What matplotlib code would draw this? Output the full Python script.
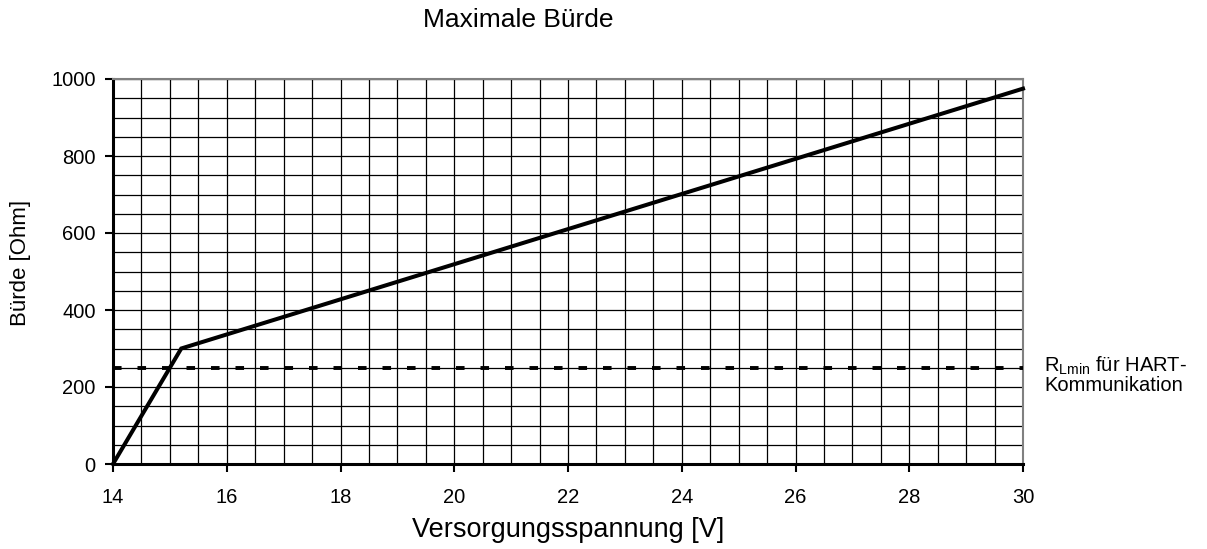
import numpy as np
import matplotlib.pyplot as plt
from matplotlib.ticker import MultipleLocator

plt.rcParams['font.family'] = ['Liberation Sans', 'DejaVu Sans']

# Kennlinie: Versorgungsspannung [V] -> maximale Buerde [Ohm]
spannung = [14.0, 15.2, 30.0]
buerde = [0, 300, 975]

# HART-Grenze
r_lmin = 250

fig = plt.figure(figsize=(12.07, 5.49), dpi=100)
ax = fig.add_axes([113 / 1207, 1 - 464 / 549, 910 / 1207, 385 / 549])

ax.plot(spannung, buerde, color='black', lw=2.9, solid_joinstyle='miter', zorder=4, clip_on=False)
ax.axhline(r_lmin, color='black', lw=2.8, linestyle=(0, (2.2, 4.1)), zorder=3)

ax.set_xlim(14, 30)
ax.set_ylim(0, 1000)
ax.xaxis.set_major_locator(MultipleLocator(2))
ax.yaxis.set_major_locator(MultipleLocator(200))
ax.xaxis.set_minor_locator(MultipleLocator(0.5))
ax.yaxis.set_minor_locator(MultipleLocator(50))
ax.grid(which='both', color='black', lw=0.9)
ax.set_axisbelow(True)
ax.tick_params(which='minor', length=0)
ax.tick_params(which='major', direction='out', length=5.5, width=1.5, labelsize=14.5)
ax.tick_params(axis='x', pad=12)
ax.tick_params(axis='y', pad=7)

for s in ['top', 'right']:
    ax.spines[s].set_color('#808080')
    ax.spines[s].set_linewidth(1.5)
for s in ['left', 'bottom']:
    ax.spines[s].set_color('black')
    ax.spines[s].set_linewidth(2.2)

fig.text(568 / 1207, 1 - 530 / 549, 'Versorgungsspannung [V]', ha='center', va='center', fontsize=19.5)
fig.text(21 / 1207, 1 - 263 / 549, 'Bürde [Ohm]', ha='center', va='center', rotation=90, fontsize=16)
fig.text(518 / 1207, 1 - 20 / 549, 'Maximale Bürde', ha='center', va='center', fontsize=19)

fig.text(1044 / 1207, 1 - 375 / 549, r'R$_{\mathregular{Lmin}}$ für HART-' + '\nKommunikation',
         ha='left', va='center', fontsize=14.5, linespacing=0.92)

fig.savefig('out.png', dpi=100)
